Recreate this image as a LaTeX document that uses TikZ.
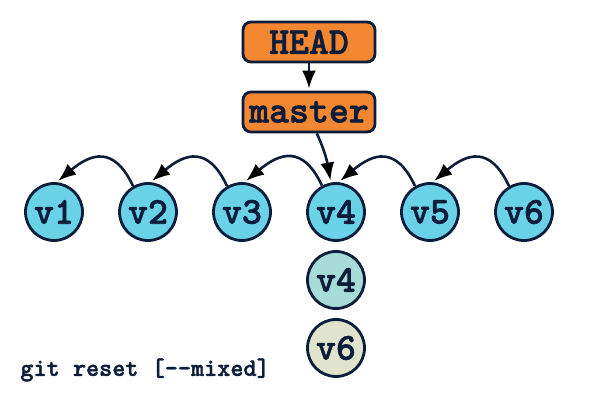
\documentclass[tikz,border=0pt]{standalone}
\usepackage{fontspec}
\usetikzlibrary{positioning,arrows.meta}
\newfontfamily\gitfont[FakeBold=1.5]{lmmonolt10-bold.otf}
\definecolor{gitorange}{HTML}{F38630}
\definecolor{gitblue}{HTML}{69D2E7}
\definecolor{gitteal}{HTML}{A7DBD8}
\definecolor{gitbeige}{HTML}{E0E4CC}
\definecolor{gitnavy}{HTML}{0B1D3A}
\tikzset{
    node distance=47pt, % distance between two commits
    >={Latex[length=9pt,width=7pt,color=black]}, % black arrow heads
    every edge/.append style={gitnavy, line width=1.3pt},
    commit/.style={circle, draw=gitnavy, line width=1.4pt, fill=gitblue, minimum size=28.5pt, inner sep=0pt,
        text=gitnavy, font=\gitfont\fontsize{19}{19}\selectfont},
    ref/.style={rectangle, rounded corners=4pt, draw=gitnavy, line width=1.4pt, fill=gitorange,
        minimum width=66pt, minimum height=20pt, inner sep=0pt,
        text=gitnavy, font=\gitfont\fontsize{19}{19}\selectfont},
}

\begin{document}
\begin{tikzpicture}[shorten >=1pt,on grid,auto]
      \useasboundingbox (0,0) rectangle (300pt,-200pt);
      \node (v1) [commit] at (27pt,-106pt) {v1};
      \node (v2) [commit, right of=v1] {v2};
      \node (v3) [commit, right of=v2] {v3};
      \node (v4) [commit, right of=v3] {v4};
      \node (v5) [commit, right of=v4] {v5};
      \node (v6) [commit, right of=v5] {v6};
      \node (index) [commit, fill=gitteal, node distance=34pt, below of=v4] {v4};
      \node (work) [commit, fill=gitbeige, node distance=34pt, below of=index] {v6};

      \node (master) [ref] at (154.5pt,-56pt) {master};
      \node (head) [ref, node distance=35pt, above of=master] {HEAD};

      \node (cmd) [anchor=west, inner sep=0pt, text=gitnavy, font=\gitfont\fontsize{12.5}{12.5}\selectfont]
            at (10pt,-185pt) {git reset [-{}-mixed]};
      \path[->]
      (head)         edge  node {} (master)
      (master.290)   edge[out=-65, in=100]  node {} (v4.100)
      (v2.120)       edge[out=115, in=40, looseness=1.5]  node {} (v1.85)
      (v3.120)       edge[out=115, in=40, looseness=1.5]  node {} (v2.85)
      (v4.118)       edge[out=115, in=40, looseness=1.5]  node {} (v3.85)
      (v5.120)       edge[out=115, in=40, looseness=1.5]  node {} (v4.85)
      (v6.120)       edge[out=115, in=40, looseness=1.5]  node {} (v5.85)
      ;
    \end{tikzpicture}
\end{document}
